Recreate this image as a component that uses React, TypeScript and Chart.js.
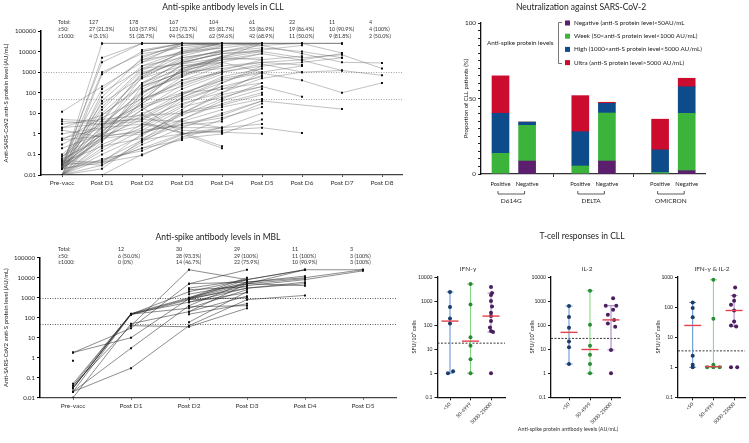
import React, { useEffect, useRef } from 'react';
import { Chart, registerables } from 'chart.js';

Chart.register(...registerables);

const FONT = 'Lato, "Open Sans", "DejaVu Sans", sans-serif';
Chart.defaults.font.family = FONT;
Chart.defaults.color = '#222';

const N = null;

// ---------------- CLL antibody levels ----------------
const cllTimepoints = ['Pre-vacc', 'Post D1', 'Post D2', 'Post D3', 'Post D4', 'Post D5', 'Post D6', 'Post D7', 'Post D8'];
const cllTotal = ['127', '178', '167', '104', '61', '22', '11', '4'];
const cllAbove50 = ['27 (21.3%)', '103 (57.9%)', '123 (73.7%)', '85 (81.7%)', '53 (86.9%)', '19 (86.4%)', '10 (90.9%)', '4 (100%)'];
const cllAbove1000 = ['4 (3.1%)', '51 (28.7%)', '94 (56.3%)', '62 (59.6%)', '42 (68.9%)', '11 (50.0%)', '9 (81.8%)', '2 (50.0%)'];
const cllSubjects: (number | null)[][] = [
  [0.02, 25000, 25000, 25000, 25000, 25000, N, N, N],
  [0.03, 3000, 25000, 25000, 25000, 25000, 25000, 25000, N],
  [0.01, 800, 10000, 25000, 25000, 20000, 8000, 3000, 2800],
  [0.05, 150, 4000, 20000, 25000, 25000, N, N, N],
  [0.01, 40, 2000, 10000, 15000, 25000, 25000, 8500, N],
  [0.02, 5, 800, 3000, 8000, 10000, 5000, 7000, 1500],
  [0.04, 2, 300, 1500, 5000, 4000, N, N, N],
  [0.01, 0.8, 100, 800, 2000, 3000, 2200, N, N],
  [0.03, 1, 30, 400, 1000, 2500, 1000, 1200, 700],
  [0.02, 0.5, 8, 100, 400, 900, 400, 100, 300],
  [0.01, 0.3, 2, 20, 60, 200, 64, N, N],
  [0.06, 0.6, 1, 5, 30, 100, N, N, N],
  [0.01, 0.02, 0.5, 3, 8, 40, N, 16, N],
  [0.02, 0.05, 0.2, 1, 1.5, 2, 1.1, N, N],
  [0.1, 4, 5, 4, 2, N, N, N, N],
  [0.3, 3, 4, 1, 0.2, N, N, N, N],
  [1, 2, 3, 1.2, 0.25, N, N, N, N],
  [5, 4, 1000, 3000, 8000, N, N, N, N],
  [2, 8, 200, 2000, 4000, 5000, N, N, N],
  [0.5, 6, 50, 300, 1000, 2000, 3000, 5000, N],
  [12, 200, 3000, 25000, 25000, 25000, N, N, N],
  [0.01, 0.01, 0.1, 0.6, 1, 5, N, N, N],
  [0.02, 0.04, 0.09, 0.7, 2, N, N, N, N],
  [0.04, 0.03, 0.3, 2, 10, 40, N, N, N],
  [0.2, 1, 10, 50, 200, 600, N, N, N],
  [0.01, 10, 500, 5000, 10000, 20000, 25000, 25000, N],
  [0.03, 20, 1500, 8000, 20000, 25000, N, N, N],
  [0.02, 60, 5000, 25000, 25000, N, N, N, N],
  [N, N, 25000, 25000, 25000, 25000, 25000, N, N],
  [N, N, 10000, 25000, 20000, N, N, N, N],
  [N, N, 2000, 5000, 10000, 15000, 10000, 5000, N],
  [N, N, 500, 2000, 3000, 1000, N, N, N],
  [N, N, 50, 200, 1000, N, N, N, N],
  [N, N, 5, 30, 100, 1000, 2000, N, N],
  [N, N, 1, 8, 50, 300, N, N, N],
  [N, N, 0.5, 1, 2, 10, N, N, N],
  [N, N, 20, 1, 1.3, N, N, N, N],
  [N, N, 100, 700, 3000, 8000, 3800, 1200, N],
  [N, N, 3000, 10000, 25000, 25000, N, N, N],
  [N, N, 200, 1000, 5000, 25000, N, N, N],
  [0.01, 0.15, 1.5, 15, 300, 2000, N, N, N],
  [0.02, 1.5, 20, 80, 500, 1000, N, N, N],
  [0.03, 0.05, 0.5, 10, 80, 200, N, N, N],
  [3, 5, 8, 10, 20, 50, N, N, N],
  [0.05, 0.04, 0.2, 0.5, N, N, N, N, N],
  [0.01, 100, 1500, 2500, 5000, 10000, N, N, N],
  [0.02, 1000, 8000, 15000, 25000, N, N, N, N],
  [0.5, 0.8, 1.2, 3, 6, 20, N, N, N],
  [2, 3, 6, 80, 600, 1500, N, N, N],
  [0.01, 0.03, 0.4, 5, 40, 150, N, N, N],
  [N, 0.04, 1, 10, 100, 500, 1000, N, N],
  [N, 25000, 25000, 25000, 25000, N, N, N, N],
  [4, 3, 25, 100, 150, 300, N, N, N],
  [0.02, 0.6, 200, 1000, 1500, 3000, 4000, 8000, N],
  [N, N, 8, 1.5, 1.2, 1, N, N, N],
  [0.01, 0.2, 3, 40, 200, N, N, N, N],
  [0.03, 0.9, 15, 150, 800, N, N, N, N],
  [0.08, 1.2, 60, 1200, 3000, N, N, N, N],
  [0.04, 30, 600, 4000, 12000, N, N, N, N],
  [0.02, 2.5, 120, 600, 6000, 12000, 20000, N, N],
  [1.5, 0.7, 1.5, 2.5, 4, N, N, N, N],
  [0.01, 0.1, 0.8, 12, 25, 80, N, N, N],
  [N, N, 12000, 25000, 25000, 25000, 25000, 25000, N],
  [N, N, 4000, 8000, 15000, N, N, N, N],
  [N, N, 150, 1200, 6000, N, N, N, N],
  [N, N, 2, 60, 400, N, N, N, N],
  [0.01, 0.4, 40, 1500, 4000, 8000, N, N, N],
  [0.02, 0.7, 5, 60, 300, 1500, N, N, N],
  [0.03, 8, 250, 3500, 12000, N, N, N, N],
  [0.01, 1.2, 80, 2500, 10000, 25000, N, N, N],
  [0.05, 0.9, 2.5, 25, 150, 700, N, N, N],
  [0.02, 15, 1200, 9000, 25000, N, N, N, N],
  [0.04, 0.25, 0.6, 4, 15, N, N, N, N],
  [0.6, 1.8, 30, 600, 2500, N, N, N, N],
  [N, N, 6000, 20000, 25000, 25000, N, N, N],
  [N, N, 800, 6000, 18000, N, N, N, N],
  [N, N, 25000, 25000, 25000, N, N, N, N],
  [N, N, 300, 3000, 8000, 12000, N, N, N],
  [N, N, 40, 400, 2000, N, N, N, N],
  [N, N, 3, 2, 2, 3, N, N, N],
  [0.01, 2, 600, 12000, 25000, N, N, N, N],
  [0.03, 0.5, 15, 250, 1200, 4000, 6000, N, N],
  [0.02, 5000, 25000, 25000, N, N, N, N, N],
  [0.01, 0.06, 0.15, 0.9, 5, 30, N, N, N],
  [0.08, 3, 100, 1000, 4000, N, N, N, N],
  [N, 2, 40, 1500, 6000, N, N, N, N],
];

// ---------------- MBL antibody levels ----------------
const mblTimepoints = ['Pre-vacc', 'Post D1', 'Post D2', 'Post D3', 'Post D4', 'Post D5'];
const mblTotal = ['12', '30', '29', '11', '3'];
const mblAbove50 = ['6 (50.0%)', '28 (93.3%)', '29 (100%)', '11 (100%)', '3 (100%)'];
const mblAbove1000 = ['0 (0%)', '14 (46.7%)', '22 (75.9%)', '10 (90.9%)', '3 (100%)'];
const mblSubjects: (number | null)[][] = [
  [0.03, 150, 900, 5000, 25000, 25000],
  [0.04, 160, 1000, 6000, 10000, 25000],
  [0.02, 140, 800, 4000, 8000, 22000],
  [0.03, 150, 2000, 8000, 25000, N],
  [0.05, 155, 600, 3000, 5000, N],
  [0.03, 150, 300, 2500, N, N],
  [1.8, 30, 5000, 25000, N, N],
  [1.8, 10, 900, 8000, N, N],
  [0.02, 3, 400, 6000, 12000, N],
  [0.01, 50, 200, 1200, N, N],
  [0.04, 40, 35, 300, N, N],
  [0.02, 0.3, 40, 800, 1300, N],
  [N, 40, 25000, 8000, N, N],
  [N, N, 3000, 8000, 25000, N],
  [N, N, 1500, 5000, 9000, N],
  [N, N, 900, 3000, 6000, N],
  [N, N, 150, 500, N, N],
  [N, N, 60, 2000, N, N],
  [N, N, 200, 5000, 4000, N],
  [N, N, 800, 1000, N, N],
  [N, N, 2500, 3500, N, N],
  [N, N, 350, 400, N, N],
  [N, N, 600, 1800, N, N],
  [N, N, 1000, 10000, N, N],
  [N, N, 5000, 6000, N, N],
  [0.7, N, N, N, N, N],
];

const antibodyThresholds = [50, 1000];
const antibodyTicks = [0.01, 0.1, 1, 10, 100, 1000, 10000, 100000];

// ---------------- Neutralization ----------------
const variantGroups = ['D614G', 'DELTA', 'OMICRON'];
const responseLabels = ['Positive', 'Negative'];
const negativeBand = [0, 8.6, 0, 8.6, 0, 2.2];
const weakBand = [13.7, 23.6, 5.3, 31.8, 1, 38];
const highBand = [26.5, 2.2, 22.7, 6.4, 15, 17.6];
const ultraBand = [24.8, 0, 23.9, 0.7, 20.3, 5.6];
const bandLabels = [
  'Negative (anti-S protein level<50AU/mL',
  'Week (50<anti-S protein level<1000 AU/mL)',
  'High (1000<anti-S protein level<5000 AU/mL)',
  'Ultra (anti-S protein level>5000 AU/mL)',
];
const bandColors = ['#5b1f6e', '#3cb43c', '#0e4b8a', '#cc0c2f'];

// ---------------- T-cell responses ----------------
const tcellGroups = ['<50', '50-4999', '5000-25000'];
const ifngLow = [2370, 560, 190, 117, 1.0, 1.2];
const ifngWeak = [5100, 720, 31, 14, 3.8, 1];
const ifngHigh = [3830, 2150, 1800, 1000, 590, 330, 240, 150, 80, 57, 52, 1];
const ifngMedian = [147, 21.6, 237];
const ifngRangeLow = [1, 1, 52];
const ifngRangeHigh = [2370, 5100, 2150];
const ifngCutoff = 17.8;

const il2Low = [620, 215, 78, 21, 12, 2.4];
const il2Weak = [2700, 103, 14, 5.8, 2.4, 1];
const il2High = [1320, 640, 640, 440, 270, 165, 118, 85, 9.3, 1];
const il2Median = [50, 9.7, 165];
const il2RangeLow = [2.4, 1, 9.3];
const il2RangeHigh = [620, 2700, 640];
const il2Cutoff = 28;

const dualLow = [142, 93, 46, 2.4, 1.2, 1];
const dualWeak = [810, 41, 1.2, 1, 1, 1];
const dualHigh = [450, 240, 162, 120, 77, 33, 24.5, 22.5, 1, 1];
const dualMedian = [24.5, 1.05, 77];
const dualRangeLow = [1, 1, 22.5];
const dualRangeHigh = [142, 810, 240];
const dualCutoff = 3.5;

const ifngJitter = [[0, 0, 0, 0, -0.1, 0.15], [0, 0, 0, 0, 0, 0], [0, 0.05, 0, 0, 0.05, 0, 0, 0, -0.05, 0, 0.1, 0]];
const il2Jitter = [[0, 0, 0, 0, 0, 0], [0, 0, 0, 0, 0, 0], [0.1, -0.25, 0.25, 0.1, -0.15, 0.15, -0.15, 0.2, 0, 0]];
const dualJitter = [[0, 0, 0, 0, 0, 0], [0, 0, 0, -0.3, 0, 0.3], [0.05, 0, 0, -0.15, 0, 0, -0.15, 0.1, -0.15, 0.15]];

const tcellTicks1 = [0.1, 1, 10, 100, 1000, 10000];
const tcellTicks2 = [0.1, 1, 10, 100, 1000];
const tPointColors = ['#1c3c6b', '#2c8a38', '#4a1f5e'];
const tBarColors = ['#5a8fd0', '#7fd87f', '#a47cbd'];
const medianColor = '#e5404c';

// ---------------- helpers ----------------
function txt(ctx: CanvasRenderingContext2D, s: string, x: number, y: number, size: number, align: CanvasTextAlign = 'left', color = '#222', rot = 0) {
  ctx.save();
  ctx.font = `${size}px ${FONT}`;
  ctx.fillStyle = color;
  ctx.textAlign = align;
  ctx.textBaseline = 'middle';
  ctx.translate(x, y);
  if (rot) ctx.rotate(rot);
  ctx.fillText(s, 0, 0);
  ctx.restore();
}

function seg(ctx: CanvasRenderingContext2D, x1: number, y1: number, x2: number, y2: number, color: string, width: number, dash: number[] = []) {
  ctx.save();
  ctx.strokeStyle = color;
  ctx.lineWidth = width;
  ctx.setLineDash(dash);
  ctx.beginPath();
  ctx.moveTo(x1, y1);
  ctx.lineTo(x2, y2);
  ctx.stroke();
  ctx.restore();
}

type DrawFn = (ctx: CanvasRenderingContext2D, chart: any) => void;
function overlay(before: DrawFn | null, after: DrawFn | null) {
  return {
    id: 'overlay',
    beforeDatasetsDraw(chart: any) {
      if (before) { chart.ctx.save(); before(chart.ctx, chart); chart.ctx.restore(); }
    },
    afterDraw(chart: any) {
      if (after) { chart.ctx.save(); after(chart.ctx, chart); chart.ctx.restore(); }
    },
  };
}

const fmtLog = (v: any) => String(v);

// ---------------- antibody spaghetti chart ----------------
interface AbCfg {
  timepoints: string[];
  subjects: (number | null)[][];
  total: string[];
  above50: string[];
  above1000: string[];
  title: string;
  titleX: number;
  titleY: number;
  headerY: number[];
  plotLeft: number;
  plotRight: number;
  plotTop: number;
  plotBottom: number;
  firstCenter: number;
  spacing: number;
  lineColor: string;
  threshColor: string;
}

function buildAntibody(cfg: AbCfg, ox: number, oy: number, w: number, h: number) {
  const xAxisH = 20;
  const datasets = cfg.subjects.map((row) => ({
    data: row.map((v, i) => (v === null ? null : { x: i, y: v })).filter((p) => p !== null),
    borderColor: cfg.lineColor,
    borderWidth: 0.6,
    pointRadius: 1.4,
    pointStyle: 'rect',
    pointBackgroundColor: '#111',
    pointBorderWidth: 0,
    pointHoverRadius: 0,
    tension: 0,
  }));
  const before: DrawFn = (ctx, chart) => {
    const ys = chart.scales.y;
    const a = chart.chartArea;
    antibodyThresholds.forEach((t) => {
      const y = Math.round(ys.getPixelForValue(t)) + 0.5;
      seg(ctx, a.left, y, a.right, y, cfg.threshColor, 0.8, [1, 1.5]);
    });
  };
  const after: DrawFn = (ctx, chart) => {
    const xs = chart.scales.x;
    txt(ctx, cfg.title, cfg.titleX - ox, cfg.titleY - oy, 8.5, 'center', '#222');
    const rows = [['Total:', cfg.total], ['\u226550:', cfg.above50], ['\u22651000:', cfg.above1000]] as [string, string[]][];
    rows.forEach(([lab, vals], r) => {
      const y = cfg.headerY[r] - oy;
      txt(ctx, lab, 58 - ox, y, 5.3, 'left', '#333');
      vals.forEach((v, i) => txt(ctx, v, xs.getPixelForValue(i + 1) - 13, y, 5.3, 'left', '#333'));
    });
    txt(ctx, 'Anti-SARS-CoV2 anti-S protein level (AU/mL)', 6 - ox, (cfg.plotTop + cfg.plotBottom) / 2 - oy, 6, 'center', '#222', -Math.PI / 2);
  };
  return {
    type: 'line',
    data: { datasets },
    options: {
      animation: false,
      responsive: false,
      devicePixelRatio: 1,
      events: [],
      layout: { padding: { left: 0, top: cfg.plotTop - oy, right: ox + w - cfg.plotRight, bottom: oy + h - cfg.plotBottom - xAxisH } },
      plugins: { legend: { display: false }, tooltip: { enabled: false } },
      scales: {
        x: {
          type: 'linear',
          offset: false,
          min: -(cfg.firstCenter - cfg.plotLeft) / cfg.spacing,
          max: (cfg.plotRight - cfg.firstCenter) / cfg.spacing,
          afterBuildTicks: (ax: any) => { ax.ticks = cfg.timepoints.map((_, i) => ({ value: i })); },
          afterFit: (s: any) => { s.height = xAxisH; },
          ticks: { callback: (v: any) => cfg.timepoints[v] ?? '', font: { size: 6.5, family: FONT }, color: '#333', maxRotation: 0, minRotation: 0, autoSkip: false, padding: 2.5 },
          grid: { drawOnChartArea: false, offset: false, tickLength: 2, color: '#444' },
          border: { color: '#444', width: 1.3 },
        },
        y: {
          type: 'logarithmic',
          min: 0.01,
          max: 100000,
          afterBuildTicks: (ax: any) => { ax.ticks = antibodyTicks.map((v) => ({ value: v })); },
          afterFit: (s: any) => { s.width = cfg.plotLeft - ox; },
          ticks: { callback: fmtLog, font: { size: 6, family: FONT }, color: '#222', padding: 2, autoSkip: false },
          grid: { drawOnChartArea: false, tickLength: 3, color: '#000' },
          border: { color: '#000', width: 1.5 },
        },
      },
    },
    plugins: [overlay(before, after)],
  };
}

const buildCll = (ox: number, oy: number, w: number, h: number) =>
  buildAntibody({
    timepoints: cllTimepoints, subjects: cllSubjects, total: cllTotal, above50: cllAbove50, above1000: cllAbove1000,
    title: 'Anti-spike antibody levels in CLL', titleX: 223, titleY: 7, headerY: [22.5, 29.3, 36],
    plotLeft: 41, plotRight: 402, plotTop: 31, plotBottom: 175, firstCenter: 62, spacing: 40,
    lineColor: 'rgba(95,95,95,0.65)', threshColor: '#8a8a8a',
  }, ox, oy, w, h);

const buildMbl = (ox: number, oy: number, w: number, h: number) =>
  buildAntibody({
    timepoints: mblTimepoints, subjects: mblSubjects, total: mblTotal, above50: mblAbove50, above1000: mblAbove1000,
    title: 'Anti-spike antibody levels in MBL', titleX: 218, titleY: 237, headerY: [249.5, 256, 262.5],
    plotLeft: 40, plotRight: 396, plotTop: 257.7, plotBottom: 397.7, firstCenter: 73, spacing: 58,
    lineColor: 'rgba(30,30,30,0.85)', threshColor: '#333',
  }, ox, oy, w, h);

// ---------------- neutralization stacked bars ----------------
function buildNeut(ox: number, oy: number, w: number, h: number) {
  const plotLeft = 481, plotRight = 705, plotTop = 23, plotBottom = 174, xAxisH = 15;
  const first = 500.5, spacing = 26.6;
  const slotOf = (b: number) => Math.floor(b / 2) * 3 + (b % 2);
  const bands = [negativeBand, weakBand, highBand, ultraBand];
  const datasets = bands.map((vals, k) => ({
    type: 'bar',
    data: vals.map((v, b) => ({ x: slotOf(b), y: v })),
    backgroundColor: bandColors[k],
    borderWidth: 0,
    barThickness: 17,
  }));
  const after: DrawFn = (ctx, chart) => {
    const xs = chart.scales.x;
    txt(ctx, 'Neutralization against SARS-CoV-2', 581 - ox, 7 - oy, 8.5, 'center', '#222');
    txt(ctx, 'Proportion of CLL patients (%)', 466 - ox, (plotTop + plotBottom) / 2 - oy, 6, 'center', '#222', -Math.PI / 2);
    // legend
    txt(ctx, 'Anti-spike protein levels', 487 - ox, 43 - oy, 6.3, 'left', '#222');
    seg(ctx, 558.5 - ox, 22.5 - oy, 558.5 - ox, 63.5 - oy, '#555', 0.8);
    seg(ctx, 558.5 - ox, 22.5 - oy, 562 - ox, 22.5 - oy, '#555', 0.8);
    seg(ctx, 558.5 - ox, 63.5 - oy, 562 - ox, 63.5 - oy, '#555', 0.8);
    bandLabels.forEach((lab, k) => {
      const y = 23 + k * 13.2 - oy;
      ctx.fillStyle = bandColors[k];
      ctx.fillRect(565 - ox, y - 2.5, 5, 5);
      txt(ctx, lab, 574 - ox, y, 6.3, 'left', '#222');
    });
    // group brackets
    variantGroups.forEach((g, i) => {
      const x1 = xs.getPixelForValue(i * 3) - 2.5;
      const x2 = xs.getPixelForValue(i * 3 + 1) - 2.5;
      const yb = 194 - oy;
      seg(ctx, x1, yb, x2, yb, '#333', 0.8);
      seg(ctx, x1, yb - 3, x1, yb, '#333', 0.8);
      seg(ctx, x2, yb - 3, x2, yb, '#333', 0.8);
      txt(ctx, g, (x1 + x2) / 2, 200.5 - oy, 6.5, 'center', '#222');
    });
  };
  return {
    type: 'bar',
    data: { datasets },
    options: {
      animation: false,
      responsive: false,
      devicePixelRatio: 1,
      events: [],
      layout: { padding: { left: 0, top: plotTop - oy, right: ox + w - plotRight, bottom: oy + h - plotBottom - xAxisH } },
      plugins: { legend: { display: false }, tooltip: { enabled: false } },
      scales: {
        x: {
          type: 'linear',
          stacked: true,
          offset: false,
          min: -(first - plotLeft) / spacing,
          max: (plotRight - first) / spacing,
          afterBuildTicks: (ax: any) => { ax.ticks = [0, 1, 2, 3, 4, 5, 6, 7].map((v) => ({ value: v })); },
          afterFit: (s: any) => { s.height = xAxisH; },
          ticks: { callback: (v: any) => (v % 3 === 2 ? '' : responseLabels[v % 3]), font: { size: 5.8, family: FONT }, color: '#222', maxRotation: 0, minRotation: 0, autoSkip: false, padding: 4 },
          grid: { drawOnChartArea: false, offset: false, tickLength: 3, tickColor: (c: any) => (c.tick && c.tick.value % 3 === 2 ? '#333' : 'rgba(0,0,0,0)') },
          border: { color: '#333', width: 1.3 },
        },
        y: {
          stacked: true,
          min: 0,
          max: 100,
          afterFit: (s: any) => { s.width = plotLeft - ox; },
          ticks: { stepSize: 5, autoSkip: false, callback: (v: any) => (v % 50 === 0 ? String(v) : ''), font: { size: 6.3, family: FONT }, color: '#222', padding: 2 },
          grid: { drawOnChartArea: false, tickLength: 3, color: '#222' },
          border: { color: '#111', width: 1.3 },
        },
      },
    },
    plugins: [overlay(null, after)],
  };
}

// ---------------- T-cell dot plots ----------------
interface TCfg {
  title: string;
  titleX: number;
  groups: number[][];
  jitter: number[][];
  median: number[];
  lo: number[];
  hi: number[];
  cutoff: number;
  yTicks: number[];
  plotLeft: number;
  plotRight: number;
  firstCenter: number;
  spacing: number;
  yTitleX: number;
  extra?: DrawFn;
}

function buildTcell(cfg: TCfg, ox: number, oy: number, w: number, h: number) {
  const plotTop = 277, plotBottom = 397.3, xAxisH = 30;
  const datasets = cfg.groups.map((vals, g) => ({
    type: 'scatter',
    data: vals.map((v, k) => ({ x: g + (cfg.jitter[g][k] || 0), y: v })),
    pointRadius: 2,
    pointBackgroundColor: tPointColors[g],
    pointBorderWidth: 0,
    pointHoverRadius: 0,
  }));
  const before: DrawFn = (ctx, chart) => {
    const xs = chart.scales.x, ys = chart.scales.y, a = chart.chartArea;
    const yc = ys.getPixelForValue(cfg.cutoff);
    seg(ctx, a.left, yc, a.right, yc, '#222', 0.9, [2, 1.5]);
    cfg.groups.forEach((_, g) => {
      const x = xs.getPixelForValue(g);
      const y1 = ys.getPixelForValue(cfg.hi[g]);
      const y2 = ys.getPixelForValue(cfg.lo[g]);
      seg(ctx, x, y1, x, y2, tBarColors[g], 1);
      seg(ctx, x - 3.5, y1, x + 3.5, y1, tBarColors[g], 1);
      seg(ctx, x - 3.5, y2, x + 3.5, y2, tBarColors[g], 1);
    });
  };
  const after: DrawFn = (ctx, chart) => {
    const xs = chart.scales.x, ys = chart.scales.y;
    cfg.median.forEach((m, g) => {
      const x = xs.getPixelForValue(g);
      const y = ys.getPixelForValue(m);
      seg(ctx, x - 8.5, y, x + 8.5, y, medianColor, 1.4);
    });
    txt(ctx, cfg.title, cfg.titleX - ox, 269 - oy, 6.5, 'center', '#333');
    txt(ctx, 'SFU/10\u2076 cells', cfg.yTitleX - ox, 337 - oy, 5.6, 'center', '#222', -Math.PI / 2);
    if (cfg.extra) cfg.extra(ctx, chart);
  };
  return {
    type: 'scatter',
    data: { datasets },
    options: {
      animation: false,
      responsive: false,
      devicePixelRatio: 1,
      events: [],
      layout: { padding: { left: 0, top: plotTop - oy, right: ox + w - cfg.plotRight, bottom: oy + h - plotBottom - xAxisH } },
      plugins: { legend: { display: false }, tooltip: { enabled: false } },
      scales: {
        x: {
          type: 'linear',
          offset: false,
          min: -(cfg.firstCenter - cfg.plotLeft) / cfg.spacing,
          max: (cfg.plotRight - cfg.firstCenter) / cfg.spacing,
          afterBuildTicks: (ax: any) => { ax.ticks = [0, 1, 2].map((v) => ({ value: v })); },
          afterFit: (s: any) => { s.height = xAxisH; },
          ticks: { callback: (v: any) => tcellGroups[v] ?? '', font: { size: 5, family: FONT }, color: '#333', maxRotation: 45, minRotation: 45, autoSkip: false, padding: 1 },
          grid: { drawOnChartArea: false, tickLength: 3, color: '#111' },
          border: { color: '#111', width: 1.3 },
        },
        y: {
          type: 'logarithmic',
          min: cfg.yTicks[0],
          max: cfg.yTicks[cfg.yTicks.length - 1],
          afterBuildTicks: (ax: any) => { ax.ticks = cfg.yTicks.map((v) => ({ value: v })); },
          afterFit: (s: any) => { s.width = cfg.plotLeft - ox; },
          ticks: { callback: fmtLog, font: { size: 5, family: FONT }, color: '#222', padding: 2, autoSkip: false },
          grid: { drawOnChartArea: false, tickLength: 3, color: '#111' },
          border: { color: '#111', width: 1.3 },
        },
      },
    },
    plugins: [overlay(before, after)],
  };
}

const buildIfng = (ox: number, oy: number, w: number, h: number) =>
  buildTcell({
    title: 'IFN-\u03b3', titleX: 468, groups: [ifngLow, ifngWeak, ifngHigh], jitter: ifngJitter,
    median: ifngMedian, lo: ifngRangeLow, hi: ifngRangeHigh, cutoff: ifngCutoff, yTicks: tcellTicks1,
    plotLeft: 437.5, plotRight: 505, firstCenter: 450, spacing: 20.5, yTitleX: 414,
  }, ox, oy, w, h);

const buildIl2 = (ox: number, oy: number, w: number, h: number) =>
  buildTcell({
    title: 'IL-2', titleX: 587, groups: [il2Low, il2Weak, il2High], jitter: il2Jitter,
    median: il2Median, lo: il2RangeLow, hi: il2RangeHigh, cutoff: il2Cutoff, yTicks: tcellTicks1,
    plotLeft: 551, plotRight: 620, firstCenter: 569, spacing: 21, yTitleX: 532,
    extra: (ctx) => {
      txt(ctx, 'T-cell responses in CLL', 582 - ox, 236 - oy, 8.5, 'center', '#222');
      txt(ctx, 'Anti-spike protein antibody levels (AU/mL)', 568 - ox, 429 - oy, 5.4, 'center', '#333');
    },
  }, ox, oy, w, h);

const buildDual = (ox: number, oy: number, w: number, h: number) =>
  buildTcell({
    title: 'IFN-\u03b3 & IL-2', titleX: 712, groups: [dualLow, dualWeak, dualHigh], jitter: dualJitter,
    median: dualMedian, lo: dualRangeLow, hi: dualRangeHigh, cutoff: dualCutoff, yTicks: tcellTicks2,
    plotLeft: 678, plotRight: 745, firstCenter: 692.7, spacing: 20.7, yTitleX: 658,
  }, ox, oy, w, h);

// ---------------- React ----------------
function ChartPanel({ x, y, w, h, build }: { x: number; y: number; w: number; h: number; build: (ox: number, oy: number, w: number, h: number) => any }) {
  const ref = useRef<HTMLCanvasElement | null>(null);
  useEffect(() => {
    if (!ref.current) return;
    const chart = new Chart(ref.current, build(x, y, w, h));
    return () => chart.destroy();
  }, []);
  return <canvas ref={ref} width={w} height={h} style={{ position: 'absolute', left: x, top: y, width: w, height: h }} />;
}

export default function App() {
  return (
    <div style={{ position: 'absolute', left: 0, top: 0, width: 749, height: 443, background: '#fff', overflow: 'hidden' }}>
      <ChartPanel x={0} y={0} w={410} h={215} build={buildCll} />
      <ChartPanel x={410} y={0} w={339} h={215} build={buildNeut} />
      <ChartPanel x={0} y={215} w={410} h={228} build={buildMbl} />
      <ChartPanel x={410} y={225} w={100} h={218} build={buildIfng} />
      <ChartPanel x={510} y={225} w={140} h={218} build={buildIl2} />
      <ChartPanel x={650} y={225} w={99} h={218} build={buildDual} />
    </div>
  );
}
